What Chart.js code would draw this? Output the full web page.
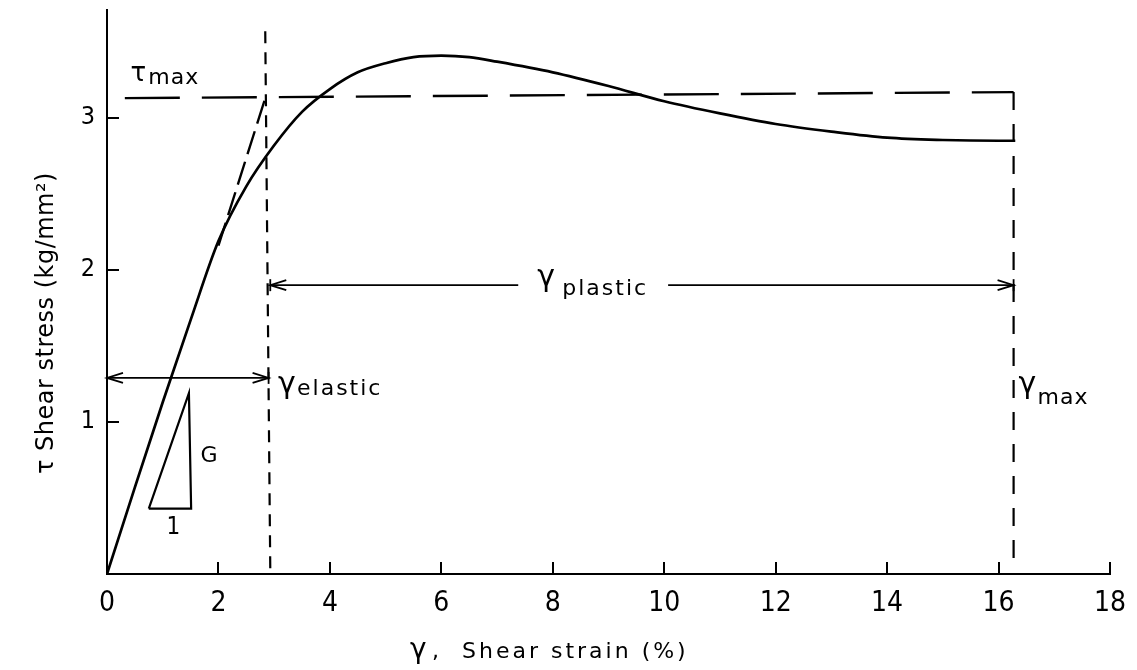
<!DOCTYPE html>
<html>
<head>
<meta charset="utf-8">
<script src="https://cdn.jsdelivr.net/npm/chart.js@4.4.1/dist/chart.umd.min.js"></script>
<style>
  html, body { margin: 0; padding: 0; background: #fff; }
</style>
</head>
<body>
<canvas id="chart" width="1137" height="670"></canvas>
<script>
// shear strain (%) and shear stress (kg/mm2)
const strainPct = [0, 0.5, 1, 1.5, 2, 2.5, 3, 3.5, 4, 4.5, 5, 5.5, 6, 6.5, 7, 8, 9, 10, 11, 12, 13, 14, 15, 16, 16.3];
const shearStress = [0, 0.57, 1.13, 1.67, 2.19, 2.55, 2.82, 3.04, 3.19, 3.30, 3.36, 3.40, 3.41, 3.40, 3.37, 3.30, 3.21, 3.11, 3.03, 2.96, 2.91, 2.87, 2.855, 2.85, 2.85];

// dashed construction lines
const tangentX = [2.0, 2.84];
const tangentY = [2.16, 3.13];
const tauMaxX = [0.32, 16.27];
const tauMaxY = [3.13, 3.17];
const gammaMaxX = [16.27, 16.27];
const gammaMaxY = [3.17, 0.1];
const gammaElX = [2.84, 2.93];
const gammaElY = [3.57, 0.03];

// dimension arrows
const elasticArrowX = [0, 2.9];
const elasticArrowY = [1.29, 1.29];
const plasticLeftX = [2.93, 7.38];
const plasticRightX = [10.07, 16.27];
const plasticArrowY = [1.9, 1.9];
const arrowTips = [[0, 1.29, -1], [2.9, 1.29, 1], [2.93, 1.9, -1], [16.27, 1.9, 1]];

// slope triangle (G)
const triX = [0.75, 1.47, 1.51, 0.75];
const triY = [0.43, 1.19, 0.43, 0.43];

// axis ticks
const xTickMin = 0, xTickMax = 18, xTickStep = 2;
const yTickMin = 0, yTickMax = 3.71, yTickStep = 1;

function pts(xs, ys) {
  return xs.map((v, i) => ({ x: v, y: ys[i] }));
}

function line(xs, ys, width, dash) {
  return {
    data: pts(xs, ys),
    showLine: true,
    borderColor: '#000',
    borderWidth: width,
    borderDash: dash || [],
    pointRadius: 0,
    fill: false
  };
}

const curve = line(strainPct, shearStress, 2.7);
curve.cubicInterpolationMode = 'monotone';

const textFont = '"DejaVu Sans", sans-serif';
const tickFont = '"Liberation Sans Narrow", "DejaVu Sans Condensed", "DejaVu Sans", sans-serif';

// labels on the plot, drawn through the scales
const annotations = {
  id: 'annotations',
  afterDatasetsDraw(chart) {
    const { ctx, scales: { x, y }, chartArea } = chart;
    const px = v => x.getPixelForValue(v);
    const py = v => y.getPixelForValue(v);
    ctx.save();
    ctx.fillStyle = '#000';
    ctx.strokeStyle = '#000';
    ctx.lineWidth = 1.8;

    arrowTips.forEach(([vx, vy, dir]) => {
      const x0 = px(vx), y0 = py(vy);
      ctx.beginPath();
      ctx.moveTo(x0 - dir * 16, y0 - 5);
      ctx.lineTo(x0, y0);
      ctx.lineTo(x0 - dir * 16, y0 + 5);
      ctx.stroke();
      ctx.beginPath();
      ctx.moveTo(x0, y0 - 6);
      ctx.lineTo(x0, y0 + 6);
      ctx.stroke();
    });

    function text(str, vx, vy, size, spacing, family) {
      ctx.font = size + 'px ' + (family || textFont);
      ctx.letterSpacing = (spacing || 0) + 'px';
      ctx.textAlign = 'left';
      ctx.textBaseline = 'alphabetic';
      ctx.fillText(str, px(vx), py(vy));
    }

    text('τ', 0.42, 3.24, 26, 0);
    text('max', 0.74, 3.22, 22, 1);
    text('γ', 3.07, 1.19, 30, 0);
    text('elastic', 3.41, 1.18, 22, 2);
    text('γ', 7.72, 1.895, 30, 0);
    text('plastic', 8.17, 1.835, 22, 2);
    text('γ', 16.36, 1.19, 30, 0);
    text('max', 16.7, 1.12, 22, 1);
    text('G', 1.68, 0.74, 22, 0);
    text('1', 1.07, 0.26, 24, 0, tickFont);

    // axis titles
    ctx.letterSpacing = '0px';
    ctx.font = '28px ' + textFont;
    ctx.fillText('γ', 410, chartArea.bottom + 84);
    ctx.font = '22px ' + textFont;
    ctx.fillText(',', 432, chartArea.bottom + 84);
    ctx.letterSpacing = '3px';
    ctx.fillText('Shear strain (%)', 462, chartArea.bottom + 84);

    ctx.translate(chartArea.left - 60, 323);
    ctx.rotate(-Math.PI / 2);
    ctx.letterSpacing = '0.5px';
    ctx.font = '24px ' + textFont;
    ctx.textAlign = 'center';
    ctx.textBaseline = 'middle';
    ctx.fillText('τ Shear stress (kg/mm²)', 0, 0);
    ctx.restore();
  }
};

new Chart(document.getElementById('chart'), {
  type: 'scatter',
  data: {
    datasets: [
      curve,
      line(tangentX, tangentY, 2.4, [24, 8]),
      line(tauMaxX, tauMaxY, 2.4, [55, 22]),
      line(gammaMaxX, gammaMaxY, 2.2, [18, 14]),
      line(gammaElX, gammaElY, 2.2, [12, 9]),
      line(elasticArrowX, elasticArrowY, 1.8),
      line(plasticLeftX, plasticArrowY, 1.8),
      line(plasticRightX, plasticArrowY, 1.8),
      line(triX, triY, 2.2)
    ]
  },
  options: {
    responsive: false,
    animation: false,
    layout: { padding: { top: 10, right: 27, left: 0, bottom: 0 } },
    plugins: { legend: { display: false }, tooltip: { enabled: false } },
    scales: {
      x: {
        type: 'linear',
        min: xTickMin,
        max: xTickMax,
        afterFit: s => {
          s.height = 96;
          s.paddingLeft = 0;
          s.paddingRight = 0;
        },
        border: { display: true, color: '#000', width: 2 },
        grid: { drawOnChartArea: false, drawTicks: true, tickLength: -12, color: '#000', lineWidth: 2 },
        ticks: {
          stepSize: xTickStep,
          padding: 25,
          color: '#000',
          font: { family: tickFont, size: 28 },
          maxRotation: 0
        }
      },
      y: {
        type: 'linear',
        min: yTickMin,
        max: yTickMax,
        afterFit: s => {
          s.width = 107;
          s.paddingTop = 0;
          s.paddingBottom = 0;
        },
        border: { display: true, color: '#000', width: 2 },
        grid: { drawOnChartArea: false, drawTicks: true, tickLength: -12, color: '#000', lineWidth: 2 },
        ticks: {
          stepSize: yTickStep,
          includeBounds: false,
          padding: 24,
          color: '#000',
          font: { family: tickFont, size: 25 },
          callback: v => (v === 0 ? '' : v)
        }
      }
    }
  },
  plugins: [annotations]
});
</script>
</body>
</html>
